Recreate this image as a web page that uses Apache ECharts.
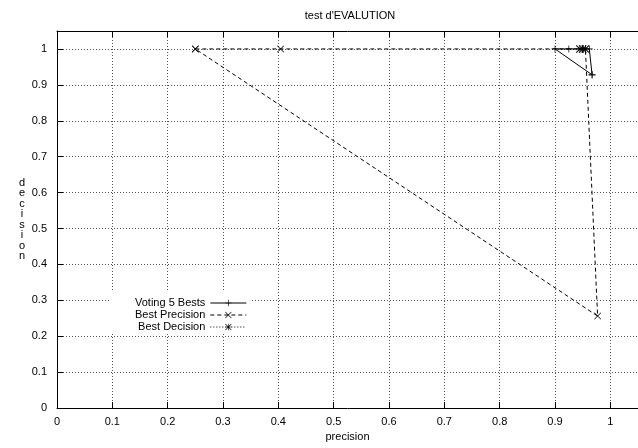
<!DOCTYPE html>
<html>
<head>
<meta charset="utf-8">
<script src="https://cdn.jsdelivr.net/npm/echarts@6/dist/echarts.min.js"></script>
<style>html,body{margin:0;padding:0;background:#fff}#c{width:638px;height:448px}</style>
</head>
<body>
<div id="c"></div>
<script>
const titleText = "test d'EVALUTION";
const xName = 'precision';
const yName = 'decision';
const seriesNames = ['Voting 5 Bests', 'Best Precision', 'Best Decision'];
const votingPts = [[0.967, 0.928], [0.9, 1], [0.925, 1], [0.95, 1], [0.962, 1], [0.967, 0.928]];
const precisionPts = [[0.25, 1], [0.404, 1], [0.945, 1], [0.955, 1], [0.977, 0.256], [0.25, 1]];
const decisionPts = [[0.945, 1], [0.95, 1], [0.955, 1]];

const FONT = 'Liberation Sans';
const plusSym = 'path://M0,4.5H10V5.5H0ZM4.5,0H5.5V10H4.5Z';
const crossSym = 'path://M0,0.7L0.7,0L10,9.3L9.3,10ZM9.3,0L10,0.7L0.7,10L0,9.3Z';
const starSym = 'path://M0,0.7L0.7,0L10,9.3L9.3,10ZM9.3,0L10,0.7L0.7,10L0,9.3ZM0,4.5H10V5.5H0ZM4.5,0H5.5V10H4.5Z';

const chart = echarts.init(document.getElementById('c'), null, {renderer: 'canvas'});
const gridLine = {show: true, lineStyle: {color: '#555', type: [1, 2], width: 1}};
const lbl = {color: '#000', fontFamily: FONT, fontSize: 11};
chart.setOption({
  animation: false,
  backgroundColor: '#fff',
  title: {
    text: titleText, left: 345, top: 5, textAlign: 'center',
    textStyle: {fontFamily: FONT, fontSize: 11, fontWeight: 'normal', color: '#000'}
  },
  legend: {
    orient: 'vertical', align: 'right', left: 110, top: 292,
    padding: [5, 3, 1, 25], itemGap: 0, itemWidth: 36, itemHeight: 8,
    backgroundColor: '#fff',
    lineStyle: {width: 1},
    textStyle: {fontFamily: FONT, fontSize: 11, color: '#000', lineHeight: 12},
    data: seriesNames
  },
  grid: {left: 57, right: -1, top: 31, bottom: 40},
  xAxis: [{
    type: 'value', min: 0, max: 1.05, interval: 0.1,
    name: xName, nameLocation: 'middle', nameGap: 22,
    nameTextStyle: {fontFamily: FONT, fontSize: 11, color: '#000'},
    axisLine: {show: true, onZero: false, lineStyle: {color: '#000', width: 1}},
    axisTick: {show: true, inside: true, length: 6, lineStyle: {color: '#000'}},
    axisLabel: Object.assign({margin: 8, showMaxLabel: false}, lbl),
    splitLine: gridLine
  }, {
    type: 'value', min: 0, max: 1.05, interval: 0.1, position: 'top',
    axisLine: {show: true, onZero: false, lineStyle: {color: '#000', width: 1}},
    axisTick: {show: true, inside: true, length: 6, lineStyle: {color: '#000'}},
    axisLabel: {show: false}, splitLine: {show: false}
  }],
  yAxis: {
    type: 'value', min: 0, max: 1.05, interval: 0.1,
    name: yName.split('').join('\n'), nameLocation: 'middle', nameGap: 35, nameRotate: 0,
    nameTextStyle: {fontFamily: FONT, fontSize: 11, color: '#000', align: 'center', lineHeight: 10.5},
    axisLine: {show: true, onZero: false, lineStyle: {color: '#000', width: 1}},
    axisTick: {show: true, inside: true, length: 6, lineStyle: {color: '#000'}},
    axisLabel: Object.assign({margin: 10, showMaxLabel: false}, lbl),
    splitLine: gridLine
  },
  series: [{
    name: seriesNames[0], type: 'line', data: votingPts,
    symbol: plusSym, symbolSize: 7, showAllSymbol: true,
    lineStyle: {color: '#000', width: 1, type: 'solid'},
    itemStyle: {color: '#000'}
  }, {
    name: seriesNames[1], type: 'line', data: precisionPts,
    symbol: crossSym, symbolSize: 7, showAllSymbol: true,
    lineStyle: {color: '#000', width: 1, type: [4, 3]},
    itemStyle: {color: '#000'}
  }, {
    name: seriesNames[2], type: 'line', data: decisionPts,
    symbol: starSym, symbolSize: 8, showAllSymbol: true,
    lineStyle: {color: '#000', width: 1, type: [1, 2]},
    itemStyle: {color: '#000'}
  }]
});
</script>
</body>
</html>
